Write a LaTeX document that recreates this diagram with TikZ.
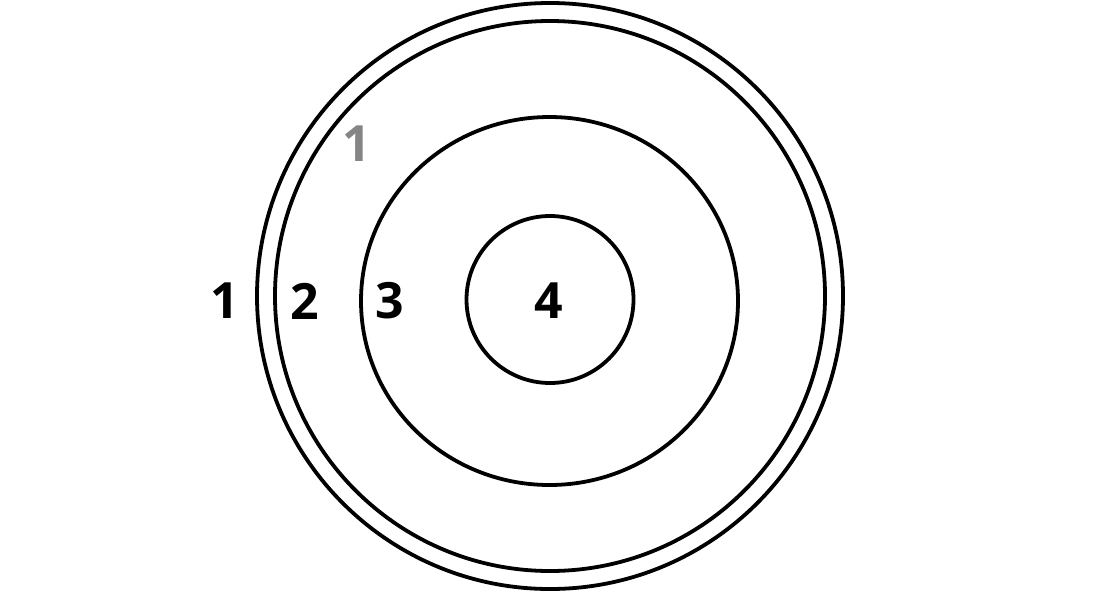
\documentclass[tikz,border=0pt]{standalone}
\usepackage{fontspec}
\setmainfont{Open Sans}
\begin{document}
\begin{tikzpicture}[x=1pt, y=-1pt, ring/.style={line width=3.8pt}, zonelabel/.style={font=\fontsize{50}{50}\selectfont\bfseries, inner sep=0pt}]
            \useasboundingbox (0,0) rectangle (1100,600);
            \draw[ring] (550,296) circle [radius=293];
            \draw[ring] (550,296) circle [radius=275];
            \draw[ring] (549.5,301) ellipse [x radius=188.5, y radius=184];
            \draw[ring] (550,299.5) circle [radius=83.5];
            \node[zonelabel] (one) at (225,301) {1};
            \node[zonelabel] (two) at (305,301) {2};
            \node[zonelabel] (three) at (390,301) {3};
            \node[zonelabel] (four) at (549,301) {4};
            \node[zonelabel, text=black!48] (oneabove) at (357,144) {1};
      \end{tikzpicture}
\end{document}
